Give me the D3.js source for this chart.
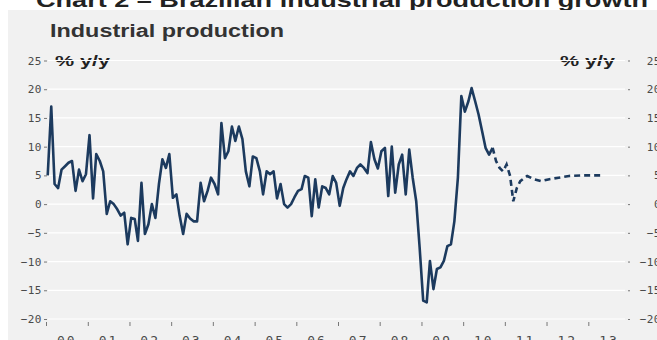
<!DOCTYPE html>
<html>
<head>
<meta charset="utf-8">
<script src="https://cdn.jsdelivr.net/npm/d3@7"></script>
<style>
  body { margin: 0; background: #fff; }
  svg { display: block; }
</style>
</head>
<body>
<svg></svg>
<script>
// monthly % y/y, Jan 2000 .. Sep 2010 (solid line)
var actualStart = "2000-01";
var actual = [
  5, 17, 3.5, 2.8, 6, 6.6, 7.2, 7.5, 2.3, 6, 4, 5.2,            // 2000
  12, 1, 8.7, 7.5, 5.7, -1.7, 0.5, 0, -0.9, -2, -1.5, -7,       // 2001
  -2.4, -2.6, -6.4, 3.7, -5.2, -3.5, 0, -2.4, 3.5, 7.8, 6.3, 8.7, // 2002
  1.1, 1.7, -2, -5.2, -1.7, -2.5, -3, -3, 3.7, 0.5, 2.3, 4.6,   // 2003
  3.5, 1.7, 14.1, 8, 9.2, 13.5, 11, 13.5, 11.3, 5.7, 3.1, 8.3,  // 2004
  8, 5.7, 1.7, 5.7, 5.2, 5.7, 1, 3.5, 0, -0.6, 0, 1.2,          // 2005
  2.3, 2.6, 4.9, 4.6, -2.1, 4.3, -0.6, 3.1, 2.8, 1.7, 4.9, 3.7, // 2006
  -0.3, 2.8, 4.3, 5.7, 4.9, 6.3, 6.9, 6.3, 5.4, 10.8, 7.8, 6.2, // 2007
  9.2, 9.8, 1.4, 10, 2, 6.9, 8.6, 1.7, 9.5, 4.6, 0.5, -7.6,     // 2008
  -16.8, -17.1, -9.9, -14.8, -11.3, -11, -9.9, -7.3, -7, -3, 4.6, 18.8, // 2009
  16.1, 17.9, 20.2, 17.9, 15.6, 12.7, 9.8, 8.6, 9.8             // 2010
];

// dashed part
var forecastDates = ["2010-09", "2010-10", "2010-11", "2010-12", "2011-01", "2011-02",
  "2011-03", "2011-04", "2011-05", "2011-07", "2011-09", "2011-11", "2012-01",
  "2012-04", "2012-07", "2012-11", "2013-05"];
var forecast = [9.8, 7.5, 6.3, 5.7, 6.9, 4.9, 0.5, 2.8, 4, 4.9, 4.3, 4, 4.3, 4.6, 4.9, 5, 5];

var yTicks = [25, 20, 15, 10, 5, 0, -5, -10, -15, -20];
var yearLabels = ["00", "01", "02", "03", "04", "05", "06", "07", "08", "09", "10", "11", "12", "13"];

var svgWidth = 657, svgHeight = 340;
var lineColor = "#1c3a5e";
var labelColor = "#4a4a4a";

var svg = d3.select("svg")
    .attr("width", svgWidth)
    .attr("height", svgHeight);

var parseMonth = d3.timeParse("%Y-%m");

// plot points at mid-month
function midMonth(d) {
    return d3.timeDay.offset(d, 15);
}

var start = parseMonth(actualStart);
var actualData = actual.map(function(v, i) {
    return { date: midMonth(d3.timeMonth.offset(start, i)), value: v };
});
var forecastData = forecast.map(function(v, i) {
    return { date: midMonth(parseMonth(forecastDates[i])), value: v };
});

var x = d3.scaleTime()
    .domain([new Date(2000, 0, 1), new Date(2014, 0, 1)])
    .range([46, 630]);

var y = d3.scaleLinear()
    .domain([-20, 25])
    .range([319, 60.5]);

// titles
svg.append("text")
    .attr("x", 36)
    .attr("y", 7)
    .attr("font-family", "Liberation Sans, Arial, sans-serif")
    .attr("font-weight", "bold")
    .attr("font-size", 21)
    .attr("fill", "#222")
    .attr("textLength", 612)
    .attr("lengthAdjust", "spacingAndGlyphs")
    .text("Chart 2 \u2013 Brazilian industrial production growth");

// grey panel
svg.append("rect")
    .attr("x", 8)
    .attr("y", 10)
    .attr("width", svgWidth - 8)
    .attr("height", svgHeight - 10)
    .attr("fill", "#f1f1f1");

svg.append("text")
    .attr("x", 50)
    .attr("y", 37)
    .attr("font-family", "Liberation Sans, Arial, sans-serif")
    .attr("font-weight", "bold")
    .attr("font-size", 18)
    .attr("fill", "#333")
    .attr("textLength", 234)
    .attr("lengthAdjust", "spacingAndGlyphs")
    .text("Industrial production");

svg.selectAll(".unit")
    .data([55, 560])
    .enter()
    .append("text")
    .attr("class", "unit")
    .attr("x", function(d){ return d; })
    .attr("y", 66)
    .attr("font-family", "Liberation Sans, Arial, sans-serif")
    .attr("font-weight", "bold")
    .attr("font-size", 15)
    .attr("fill", "#222")
    .attr("textLength", 55)
    .attr("lengthAdjust", "spacingAndGlyphs")
    .text("% y/y");

// white gridlines
svg.append("g")
    .selectAll("line")
    .data(yTicks)
    .enter()
    .append("line")
    .attr("x1", 48)
    .attr("x2", 625)
    .attr("y1", function(d){ return y(d); })
    .attr("y2", function(d){ return y(d); })
    .attr("stroke", "#fff")
    .attr("stroke-width", 1.2);

// left axis
var leftAxis = d3.axisLeft(y)
    .tickValues(yTicks)
    .tickSize(3)
    .tickPadding(2);

var gl = svg.append("g")
    .attr("transform", "translate(47,0)")
    .call(leftAxis);

// right axis (labels run off the edge like the original)
var rightAxis = d3.axisRight(y)
    .tickValues(yTicks)
    .tickSize(2)
    .tickPadding(5);

var gr = svg.append("g")
    .attr("transform", "translate(628,0)")
    .call(rightAxis);

gr.selectAll("text")
    .attr("text-anchor", "end")
    .attr("x", 33);

// bottom axis: ticks at year starts, labels mid-year
var years = d3.range(2000, 2014).map(function(yr){ return new Date(yr, 0, 1); });

var bottomAxis = d3.axisBottom(x)
    .tickValues(years)
    .tickSize(4)
    .tickFormat("");

var gb = svg.append("g")
    .attr("transform", "translate(0,322)")
    .call(bottomAxis);

gb.selectAll(".yearLabel")
    .data(years)
    .enter()
    .append("text")
    .attr("class", "yearLabel")
    .attr("x", function(d){ return x(d3.timeMonth.offset(d, 6)); })
    .attr("y", 23)
    .attr("text-anchor", "middle")
    .text(function(d, i){ return yearLabels[i]; });

[gl, gr, gb].forEach(function(g) {
    g.select(".domain").remove();
    g.selectAll("line").attr("stroke", "#777");
    g.selectAll("text")
        .attr("fill", labelColor)
        .attr("font-family", "DejaVu Sans Mono, monospace")
        .attr("font-size", 11)
        .attr("letter-spacing", 0.5);
});

gb.selectAll(".yearLabel")
    .attr("font-size", 13)
    .attr("letter-spacing", 2);

// lines
var line = d3.line()
    .x(function(d){ return x(d.date); })
    .y(function(d){ return y(d.value); });

svg.append("path")
    .datum(actualData)
    .attr("d", line)
    .attr("fill", "none")
    .attr("stroke", lineColor)
    .attr("stroke-width", 2.6)
    .attr("stroke-linejoin", "round");

svg.append("path")
    .datum(forecastData)
    .attr("d", line)
    .attr("fill", "none")
    .attr("stroke", lineColor)
    .attr("stroke-width", 2.6)
    .attr("stroke-dasharray", "6,4");
</script>
</body>
</html>
